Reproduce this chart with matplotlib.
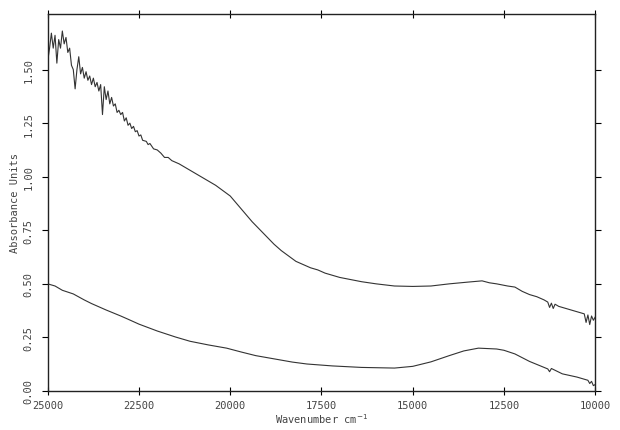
import matplotlib.pyplot as plt

wn_upper = [25000, 24950, 24900, 24850, 24800, 24750, 24700, 24650, 24600, 24550,
            24500, 24450, 24400, 24350, 24300, 24250, 24200, 24150, 24100, 24050,
            24000, 23950, 23900, 23850, 23800, 23750, 23700, 23650, 23600, 23550,
            23500, 23450, 23400, 23350, 23300, 23250, 23200, 23150, 23100, 23050,
            23000, 22950, 22900, 22850, 22800, 22750, 22700, 22650, 22600, 22550,
            22500, 22450, 22400, 22300, 22250, 22200, 22100, 22000, 21900, 21800,
            21700, 21600, 21400, 21200, 21000, 20800, 20600, 20400, 20200,
            20000, 19800, 19600, 19400, 19200, 19000, 18800, 18600, 18400, 18200,
            18000, 17800, 17600, 17400, 17200, 17000, 16700, 16400, 16000, 15500,
            15000, 14500, 14000, 13500, 13100, 12900, 12700, 12400, 12200, 12000,
            11800, 11600, 11400, 11300, 11250, 11200, 11150, 11100, 11000, 10800,
            10600, 10400, 10300, 10250, 10200, 10150, 10100, 10050, 10000]
abs_upper = [1.54, 1.60, 1.67, 1.60, 1.66, 1.53, 1.64, 1.60, 1.68, 1.62,
             1.65, 1.58, 1.60, 1.52, 1.50, 1.41, 1.50, 1.56, 1.48, 1.51,
             1.46, 1.49, 1.45, 1.47, 1.43, 1.46, 1.42, 1.44, 1.40, 1.43,
             1.29, 1.42, 1.36, 1.40, 1.34, 1.37, 1.33, 1.34, 1.30, 1.31,
             1.29, 1.30, 1.26, 1.275, 1.24, 1.25, 1.225, 1.235, 1.21, 1.215,
             1.19, 1.195, 1.17, 1.165, 1.15, 1.155, 1.13, 1.125, 1.11, 1.09,
             1.09, 1.075, 1.06, 1.04, 1.02, 1.00, 0.98, 0.96, 0.935,
             0.91, 0.87, 0.83, 0.79, 0.755, 0.72, 0.685, 0.655, 0.63, 0.605,
             0.59, 0.575, 0.565, 0.55, 0.54, 0.53, 0.52, 0.51, 0.50, 0.49,
             0.488, 0.49, 0.50, 0.508, 0.514, 0.505, 0.50, 0.49, 0.485, 0.465,
             0.45, 0.44, 0.425, 0.415, 0.39, 0.41, 0.385, 0.405, 0.395, 0.385,
             0.375, 0.365, 0.36, 0.32, 0.355, 0.31, 0.35, 0.33, 0.345]

wn_lower = [25000, 24800, 24600, 24300, 24000, 23800, 23400, 23000, 22800, 22500,
            22000, 21500, 21100, 20600, 20100, 19700, 19300, 18800, 18300, 17900,
            17200, 16400, 15500, 15000, 14500, 14000, 13600, 13200, 12700, 12500,
            12200, 11800, 11300, 11250, 11200, 10900, 10500, 10200, 10150, 10100,
            10050, 10000]
abs_lower = [0.50, 0.49, 0.47, 0.453, 0.425, 0.408, 0.378, 0.35, 0.335, 0.312,
             0.28, 0.252, 0.232, 0.215, 0.20, 0.182, 0.165, 0.15, 0.135, 0.126,
             0.117, 0.11, 0.107, 0.115, 0.136, 0.165, 0.187, 0.20, 0.196, 0.19,
             0.173, 0.138, 0.103, 0.09, 0.105, 0.08, 0.065, 0.05, 0.035, 0.045,
             0.025, 0.03]

x_ticks = [25000, 22500, 20000, 17500, 15000, 12500, 10000]
y_ticks = [0.0, 0.25, 0.5, 0.75, 1.0, 1.25, 1.5]

plt.rcParams["font.family"] = "DejaVu Sans Mono"

fig = plt.figure(figsize=(6.2, 4.31), dpi=100)
ax = fig.add_axes([0.077, 0.0905, 0.883, 0.875])

ax.plot(wn_upper, abs_upper, color="#333333", lw=0.8)
ax.plot(wn_lower, abs_lower, color="#333333", lw=0.8)

ax.set_xlim(25000, 10000)
ax.set_ylim(0, 1.76)
ax.set_xticks(x_ticks)
ax.set_xticklabels([str(t) for t in x_ticks], fontsize=7.5, color="#444444")
ax.set_yticks(y_ticks)
ax.set_yticklabels([f"{t:.2f}" for t in y_ticks], fontsize=7.5, rotation=90,
                   va="center", color="#444444")

ax.tick_params(axis="x", direction="inout", length=6, top=True, width=0.8)
ax.tick_params(axis="y", direction="out", length=4, right=True, width=0.8, pad=6)
for s in ax.spines.values():
    s.set_linewidth(1.0)
    s.set_color("#222222")

ax.set_xlabel("Wavenumber cm$^{-1}$", fontsize=7.5, color="#444444", labelpad=1)
ax.set_ylabel("Absorbance Units", fontsize=7.5, color="#444444", labelpad=3)

fig.savefig("out.png", dpi=100)
